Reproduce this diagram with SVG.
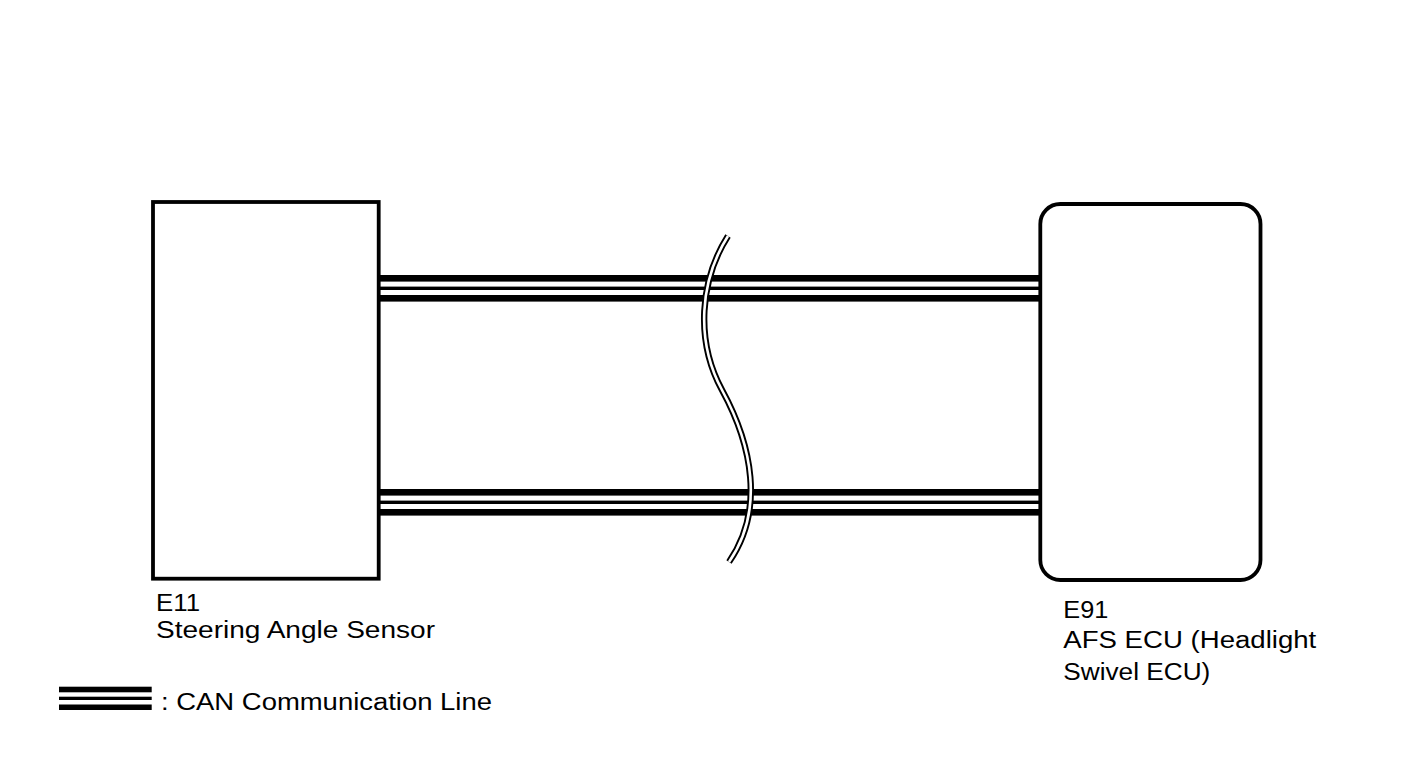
<svg xmlns="http://www.w3.org/2000/svg" width="1424" height="759" viewBox="0 0 1424 759">
<style>
.box{fill:#fff;stroke:#000;stroke-width:3.8}
.lbl{font-family:"Liberation Sans",Arial,sans-serif;font-size:23.5px;fill:#000}
.wb{fill:none;stroke:#000;stroke-width:6.4}
.ww{fill:none;stroke:#fff;stroke-width:2.6}
</style>
<defs>
<g id="can">
<rect x="0" y="-13.3" width="1" height="6.6"/>
<rect x="0" y="-1.7" width="1" height="3.4"/>
<rect x="0" y="6.7" width="1" height="6.6"/>
</g>
</defs>
<rect width="1424" height="759" fill="#fff"/>
<g id="connectors">
<use href="#can" transform="translate(379,288.3) scale(661,1)"/>
<use href="#can" transform="translate(379,502.3) scale(661,1)"/>
</g>
<g id="break">
<path class="wb" d="M 728 236 C 700 280, 695 340, 722 390 C 752 445, 765 510, 729 562"/>
<path class="ww" d="M 728 236 C 700 280, 695 340, 722 390 C 752 445, 765 510, 729 562"/>
</g>
<g id="E11">
<rect class="box" x="153" y="202" width="225.7" height="376.7"/>
<text class="lbl" x="156" y="611" textLength="44" lengthAdjust="spacingAndGlyphs">E11</text>
<text class="lbl" x="156" y="638" textLength="279" lengthAdjust="spacingAndGlyphs">Steering Angle Sensor</text>
</g>
<g id="E91">
<rect class="box" x="1040.3" y="204" width="220.2" height="376" rx="20" ry="20"/>
<text class="lbl" x="1063.3" y="618.3" textLength="45" lengthAdjust="spacingAndGlyphs">E91</text>
<text class="lbl" x="1063.3" y="648.3" textLength="253" lengthAdjust="spacingAndGlyphs">AFS ECU (Headlight</text>
<text class="lbl" x="1063.3" y="680" textLength="147" lengthAdjust="spacingAndGlyphs">Swivel ECU)</text>
</g>
<g id="legend">
<rect x="59" y="686.7" width="92.7" height="5.6"/>
<rect x="59" y="696.7" width="92.7" height="3.3"/>
<rect x="59" y="704.5" width="92.7" height="5.5"/>
<text class="lbl" x="161" y="710" textLength="331" lengthAdjust="spacingAndGlyphs">: CAN Communication Line</text>
</g>
</svg>
